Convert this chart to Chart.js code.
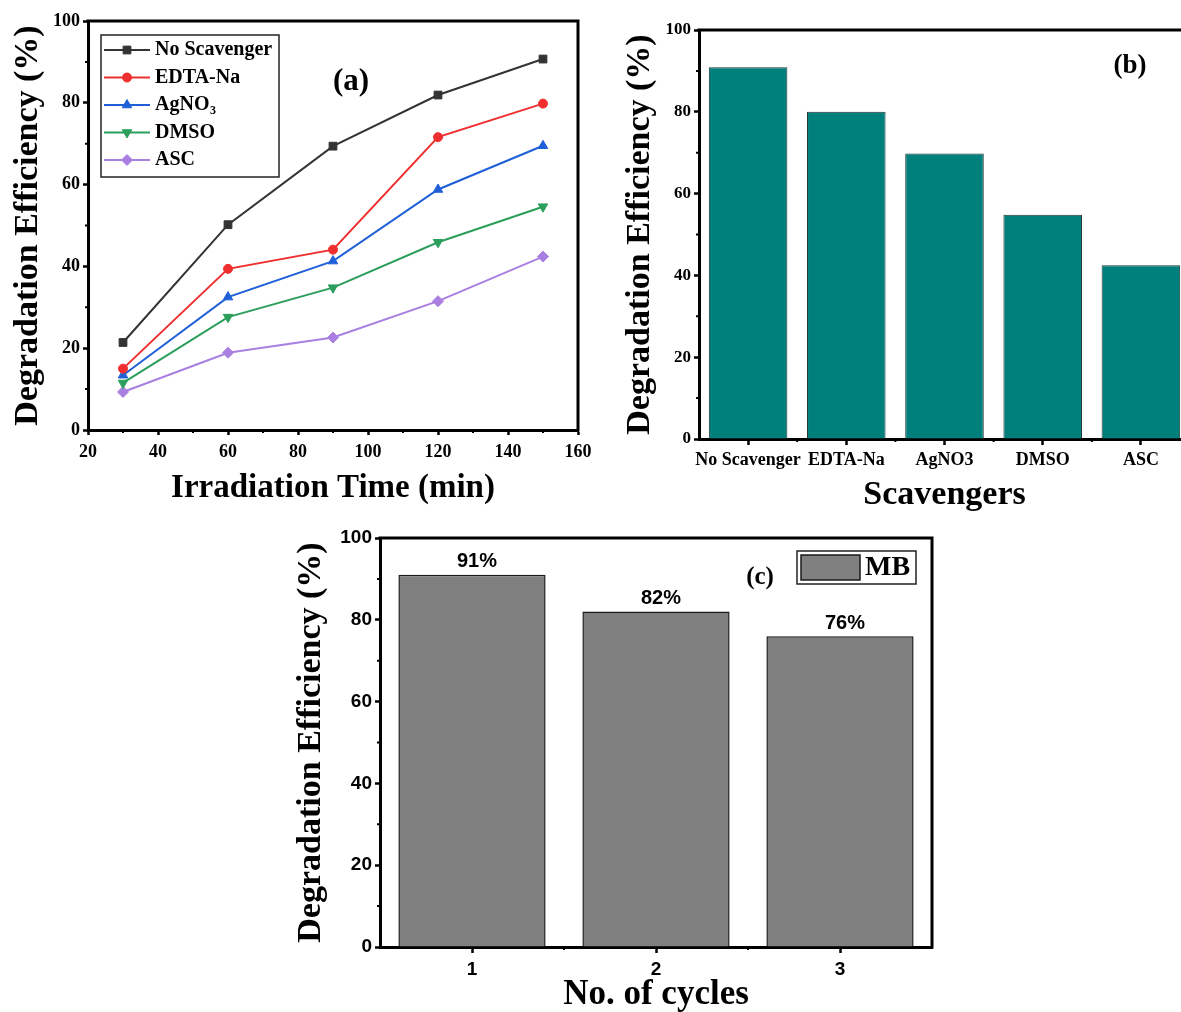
<!DOCTYPE html>
<html>
<head>
<meta charset="utf-8">
<script src="https://cdn.jsdelivr.net/npm/chart.js@4.4.1/dist/chart.umd.min.js"></script>
<style>
html,body{margin:0;padding:0;background:#fff;overflow:hidden;width:1181px;height:1012px;}
.wrap{position:absolute;}
canvas{display:block;}
</style>
</head>
<body>
<div class="wrap" style="left:0;top:0;"><canvas id="ca" width="600" height="510"></canvas></div>
<div class="wrap" style="left:600px;top:0;"><canvas id="cb" width="620" height="520"></canvas></div>
<div class="wrap" style="left:280px;top:520px;"><canvas id="cc" width="660" height="492"></canvas></div>
<script>
// ---------- data ----------
const timeMin = [30, 60, 90, 120, 150];
const xTicksA = [20, 40, 60, 80, 100, 120, 140, 160];
const yTicks = [0, 20, 40, 60, 80, 100];
const noScavenger = [21.4, 50.2, 69.4, 81.9, 90.7];
const edtaNa      = [15.0, 39.4, 44.1, 71.6, 79.8];
const agNO3       = [13.4, 32.5, 41.3, 58.8, 69.5];
const dmso        = [11.5, 27.6, 34.8, 45.9, 54.6];
const asc         = [9.3, 18.9, 22.6, 31.5, 42.4];
const scavengerLabels = ['No Scavenger', 'EDTA-Na', 'AgNO3', 'DMSO', 'ASC'];
const scavengerEff = [90.9, 80.0, 69.8, 54.8, 42.5];
const cycleLabels = ['1', '2', '3'];
const cycleEff = [91, 82, 76];

// ---------- styles ----------
const serif = "'Liberation Serif','Times New Roman',serif";
const sans = "'Liberation Sans',Arial,sans-serif";
Chart.defaults.color = '#000';
Chart.defaults.font.family = serif;
const H = Chart.helpers;

const framePlugin = {
  id: 'frame',
  afterDraw(chart, args, o) {
    const {ctx, chartArea: a, scales} = chart;
    ctx.save();
    ctx.strokeStyle = '#000';
    ctx.lineWidth = o.lw;
    ctx.lineCap = 'square';
    ctx.beginPath();
    ctx.moveTo(a.left, a.top); ctx.lineTo(a.right, a.top);
    ctx.lineTo(a.right, a.bottom);
    ctx.stroke();
    // minor ticks
    ctx.lineWidth = 2; ctx.lineCap = 'butt';
    ctx.beginPath();
    const y = scales.y, x = scales.x;
    const yt = y.ticks.map(t => t.value);
    for (let i = 0; i < yt.length - 1; i++) {
      const p = y.getPixelForValue((yt[i] + yt[i + 1]) / 2);
      ctx.moveTo(a.left - o.minorLen, p); ctx.lineTo(a.left, p);
    }
    if (x.type === 'linear') {
      const xt = x.ticks.map(t => t.value);
      for (let i = 0; i < xt.length - 1; i++) {
        const p = x.getPixelForValue((xt[i] + xt[i + 1]) / 2);
        ctx.moveTo(p, a.bottom); ctx.lineTo(p, a.bottom + o.minorLen);
      }
    } else {
      for (let i = 0; i < x.ticks.length - 1; i++) {
        const p = (x.getPixelForTick(i) + x.getPixelForTick(i + 1)) / 2;
        ctx.moveTo(p, a.bottom); ctx.lineTo(p, a.bottom + o.minorLen);
      }
    }
    ctx.stroke();
    if (o.label) {
      ctx.fillStyle = '#000';
      ctx.font = `bold ${o.labelSize}px ${serif}`;
      ctx.textAlign = 'center'; ctx.textBaseline = 'middle';
      ctx.fillText(o.label, o.labelX, o.labelY);
    }
    ctx.restore();
  }
};

const boxLegendPlugin = {
  id: 'boxLegend',
  afterDraw(chart, args, o) {
    const ctx = chart.ctx;
    ctx.save();
    ctx.strokeStyle = '#222'; ctx.lineWidth = 1.5;
    ctx.strokeRect(o.x, o.y, o.w, o.h);
    chart.data.datasets.forEach((ds, i) => {
      const cy = o.row0 + i * o.gap;
      ctx.strokeStyle = ds.borderColor; ctx.lineWidth = ds.borderWidth;
      ctx.beginPath(); ctx.moveTo(o.lineX0, cy); ctx.lineTo(o.lineX1, cy); ctx.stroke();
      ctx.fillStyle = ds.backgroundColor;
      ctx.lineWidth = 1;
      H.drawPoint(ctx, {pointStyle: ds.pointStyle, rotation: ds.pointRotation || 0, radius: ds.pointRadius, borderWidth: 1}, (o.lineX0 + o.lineX1) / 2, cy);
      ctx.fillStyle = '#000';
      ctx.font = `bold ${o.size}px ${serif}`;
      ctx.textAlign = 'left'; ctx.textBaseline = 'middle';
      const m = /^(.*?)(\d+)$/.exec(ds.label);
      if (m) {
        ctx.fillText(m[1], o.textX, cy);
        const w = ctx.measureText(m[1]).width;
        ctx.font = `bold ${Math.round(o.size * 0.62)}px ${serif}`;
        ctx.fillText(m[2], o.textX + w + 0.5, cy + o.size * 0.32);
      } else {
        ctx.fillText(ds.label, o.textX, cy);
      }
    });
    ctx.restore();
  }
};

const mbLegendPlugin = {
  id: 'mbLegend',
  afterDraw(chart, args, o) {
    const ctx = chart.ctx;
    const ds = chart.data.datasets[0];
    ctx.save();
    ctx.strokeStyle = '#222'; ctx.lineWidth = 1.5;
    ctx.strokeRect(o.x, o.y, o.w, o.h);
    ctx.fillStyle = ds.backgroundColor;
    ctx.fillRect(o.sx, o.sy, o.sw, o.sh);
    ctx.strokeStyle = ds.borderColor; ctx.lineWidth = 1.5;
    ctx.strokeRect(o.sx, o.sy, o.sw, o.sh);
    ctx.fillStyle = '#000';
    ctx.font = `bold ${o.size}px ${serif}`;
    ctx.textAlign = 'left'; ctx.textBaseline = 'middle';
    ctx.fillText(ds.label, o.textX, o.textY);
    ctx.restore();
  }
};

const barLabelPlugin = {
  id: 'barLabels',
  afterDatasetsDraw(chart, args, o) {
    const ctx = chart.ctx;
    const ds = chart.data.datasets[0];
    const meta = chart.getDatasetMeta(0);
    ctx.save();
    ctx.fillStyle = '#000';
    ctx.font = `bold ${o.size}px ${sans}`;
    ctx.textAlign = 'center'; ctx.textBaseline = 'middle';
    meta.data.forEach((el, i) => {
      ctx.fillText(ds.data[i] + '%', el.x + o.dx, el.y - o.gap);
    });
    ctx.restore();
  }
};

function tickFont(size, fam) { return {family: fam || serif, size: size, weight: 'bold'}; }
function gridOpts(len) { return {drawOnChartArea: false, drawTicks: true, tickLength: len, tickWidth: 2.5, tickColor: '#000', offset: false}; }
const borderOpts = {display: true, width: 3, color: '#000'};

function mk(label, arr, color, style, rot, r) {
  return {
    label: label,
    data: timeMin.map((t, i) => ({x: t, y: arr[i]})),
    borderColor: color, backgroundColor: color,
    borderWidth: 2, pointStyle: style, pointRotation: rot,
    pointRadius: r, pointBorderWidth: 1, tension: 0
  };
}

// ---------- (a) ----------
new Chart(document.getElementById('ca'), {
  type: 'line',
  data: {
    datasets: [
      mk('No Scavenger', noScavenger, '#333333', 'rect', 0, 5.5),
      mk('EDTA-Na', edtaNa, '#ef2f2f', 'circle', 0, 4.5),
      mk('AgNO3', agNO3, '#1f60d8', 'triangle', 0, 5.5),
      mk('DMSO', dmso, '#2b9e5b', 'triangle', 180, 5.5),
      mk('ASC', asc, '#a97fe2', 'rectRot', 0, 5.5)
    ]
  },
  options: {
    responsive: false, animation: false, devicePixelRatio: 1,
    layout: {padding: {top: 21, right: 22, left: 0, bottom: 0}},
    plugins: {
      legend: {display: false}, tooltip: {enabled: false},
      frame: {lw: 3, minorLen: 3, label: '(a)', labelSize: 31, labelX: 351, labelY: 82},
      boxLegend: {x: 101, y: 35, w: 178, h: 142, row0: 50, gap: 27.5, lineX0: 104, lineX1: 150, textX: 155, size: 20}
    },
    scales: {
      x: {
        type: 'linear', min: xTicksA[0], max: xTicksA[xTicksA.length - 1],
        afterFit: s => { s.height = 80; },
        afterBuildTicks: s => { s.ticks = xTicksA.map(v => ({value: v})); },
        ticks: {font: tickFont(18), color: '#000', padding: 7, maxRotation: 0, autoSkip: false},
        grid: gridOpts(5), border: borderOpts,
        title: {display: true, text: 'Irradiation Time (min)', color: '#000', font: {family: serif, size: 33, weight: 'bold', lineHeight: 1}, padding: {top: 0, bottom: 5}}
      },
      y: {
        min: 0, max: 100,
        afterFit: s => { s.width = 88; },
        afterBuildTicks: s => { s.ticks = yTicks.map(v => ({value: v})); },
        ticks: {font: tickFont(18), color: '#000', padding: 3},
        grid: gridOpts(5), border: borderOpts,
        title: {display: true, text: 'Degradation Efficiency (%)', color: '#000', font: {family: serif, size: 34, weight: 'bold', lineHeight: 1}, padding: {top: 11, bottom: 0}}
      }
    }
  },
  plugins: [framePlugin, boxLegendPlugin]
});

// ---------- (b) ----------
new Chart(document.getElementById('cb'), {
  type: 'bar',
  data: {
    labels: scavengerLabels,
    datasets: [{label: 'Efficiency', data: scavengerEff, backgroundColor: '#00807c', borderColor: '#263333', borderWidth: 1, barPercentage: 0.8, categoryPercentage: 1.0}]
  },
  options: {
    responsive: false, animation: false, devicePixelRatio: 1,
    layout: {padding: {top: 30, right: 30, left: 0, bottom: 0}},
    plugins: {
      legend: {display: false}, tooltip: {enabled: false},
      frame: {lw: 3, minorLen: 3, label: '(b)', labelSize: 27, labelX: 530, labelY: 66}
    },
    scales: {
      x: {
        afterFit: s => { s.height = 81; },
        ticks: {font: tickFont(18), color: '#000', padding: 5, maxRotation: 0, autoSkip: false},
        grid: gridOpts(6), border: borderOpts,
        title: {display: true, text: 'Scavengers', color: '#000', font: {family: serif, size: 34, weight: 'bold', lineHeight: 1}, padding: {top: 0, bottom: 8}}
      },
      y: {
        min: 0, max: 100,
        afterFit: s => { s.width = 99; },
        afterBuildTicks: s => { s.ticks = yTicks.map(v => ({value: v})); },
        ticks: {font: tickFont(17), color: '#000', padding: 3},
        grid: gridOpts(5), border: borderOpts,
        title: {display: true, text: 'Degradation Efficiency (%)', color: '#000', font: {family: serif, size: 34, weight: 'bold', lineHeight: 1}, padding: {top: 23, bottom: 0}}
      }
    }
  },
  plugins: [framePlugin]
});

// ---------- (c) ----------
new Chart(document.getElementById('cc'), {
  type: 'bar',
  data: {
    labels: cycleLabels,
    datasets: [{label: 'MB', data: cycleEff, backgroundColor: '#808080', borderColor: '#1a1a1a', borderWidth: 1.5, barPercentage: 0.8, categoryPercentage: 1.0}]
  },
  options: {
    responsive: false, animation: false, devicePixelRatio: 1,
    layout: {padding: {top: 18, right: 8, left: 0, bottom: 0}},
    plugins: {
      legend: {display: false}, tooltip: {enabled: false},
      frame: {lw: 3, minorLen: 3, label: '(c)', labelSize: 25, labelX: 480, labelY: 58},
      mbLegend: {x: 517, y: 31, w: 119, h: 33, sx: 521, sy: 35, sw: 59, sh: 25, textX: 585, textY: 48, size: 28},
      barLabels: {size: 20, gap: 13, dx: 5}
    },
    scales: {
      x: {
        afterFit: s => { s.height = 65; },
        ticks: {font: tickFont(19, sans), color: '#000', padding: 5, maxRotation: 0, autoSkip: false},
        grid: gridOpts(6), border: borderOpts,
        title: {display: true, text: 'No. of cycles', color: '#000', font: {family: serif, size: 35, weight: 'bold', lineHeight: 1}, padding: {top: 0, bottom: 0}}
      },
      y: {
        min: 0, max: 100,
        afterFit: s => { s.width = 100; },
        afterBuildTicks: s => { s.ticks = yTicks.map(v => ({value: v})); },
        ticks: {font: tickFont(19, sans), color: '#000', padding: 3},
        grid: gridOpts(5), border: borderOpts,
        title: {display: true, text: 'Degradation Efficiency (%)', color: '#000', font: {family: serif, size: 34, weight: 'bold', lineHeight: 1}, padding: {top: 14, bottom: 0}}
      }
    }
  },
  plugins: [framePlugin, mbLegendPlugin, barLabelPlugin]
});
</script>
</body>
</html>
